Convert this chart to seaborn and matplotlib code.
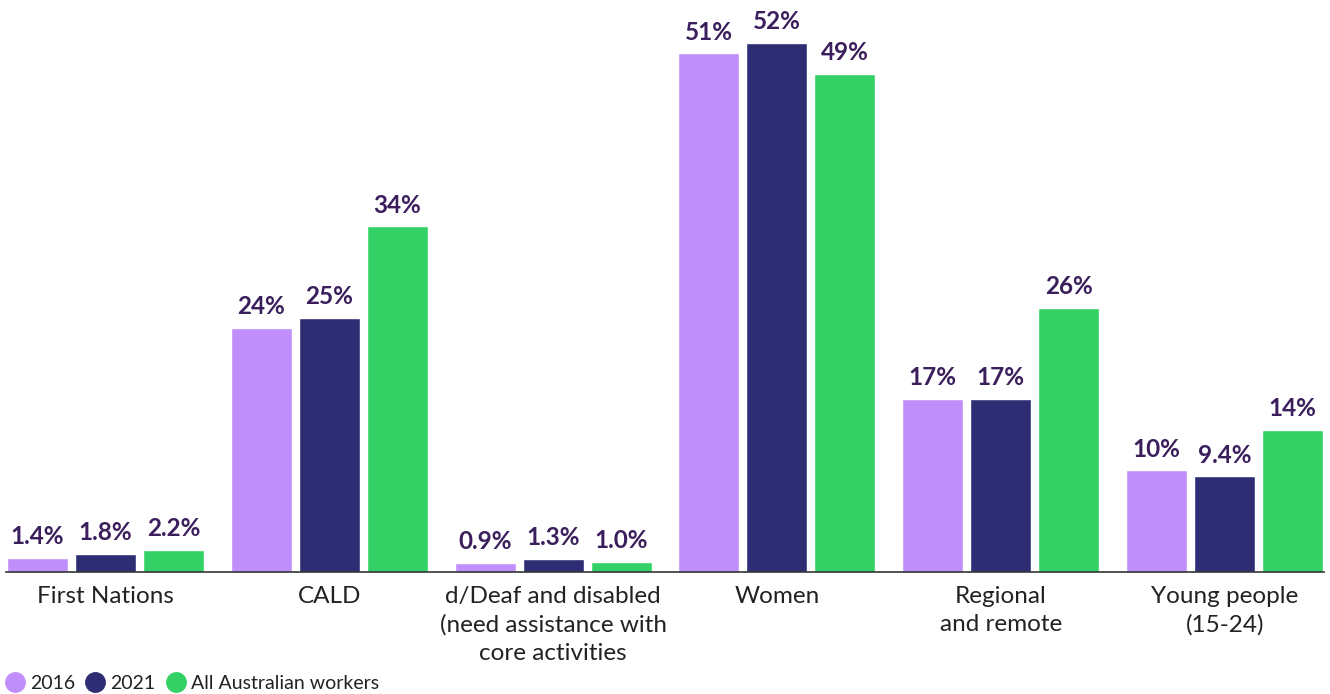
import matplotlib
matplotlib.use("Agg")
import matplotlib.pyplot as plt
from matplotlib.lines import Line2D
import seaborn as sns
import pandas as pd

# Share of workers by group
categories = [
    "First Nations",
    "CALD",
    "d/Deaf and disabled\n(need assistance with\ncore activities",
    "Women",
    "Regional\nand remote",
    "Young people\n(15-24)",
]
series = ["2016", "2021", "All Australian workers"]
values_2016 = [1.4, 24, 0.9, 51, 17, 10]
values_2021 = [1.8, 25, 1.3, 52, 17, 9.4]
values_all = [2.2, 34, 1.0, 49, 26, 14]
colors = ["#c18ffb", "#2e2d74", "#33d165"]

label_color = "#3b1f5c"
text_color = "#222222"

rows = []
for name, vals in zip(series, [values_2016, values_2021, values_all]):
    for cat, v in zip(categories, vals):
        rows.append({"category": cat, "series": name, "value": v})
df = pd.DataFrame(rows)

sns.set_theme(style="white")
plt.rcParams["font.family"] = ["Lato", "DejaVu Sans"]

fig = plt.figure(figsize=(13.3, 6.94), dpi=100)
ax = fig.add_axes([6 / 1330, 122 / 694, 1318 / 1330, 572 / 694])

sns.barplot(
    data=df, x="category", y="value", hue="series",
    order=categories, hue_order=series, palette=colors,
    width=0.9116, gap=0.103, saturation=1, legend=False, ax=ax,
)

ax.set_ylim(0, 56.25)
ax.set_xlim(-0.4437, 5.4437)


def fmt(v):
    return f"{v:.1f}%" if v < 10 else f"{v:.0f}%"


for cont, vals in zip(ax.containers, [values_2016, values_2021, values_all]):
    ax.bar_label(cont, labels=[fmt(v) for v in vals], padding=7,
                 fontsize=17.5, fontweight="bold", color=label_color)

ax.set_xlabel("")
ax.set_ylabel("")
ax.set_yticks([])
ax.set_xticks(range(len(categories)))
ax.set_xticklabels(categories, fontsize=17.5, color=text_color, linespacing=1.42)
ax.tick_params(axis="x", length=0, pad=10)
for side in ["top", "left", "right"]:
    ax.spines[side].set_visible(False)
ax.spines["bottom"].set_color("#333333")
ax.spines["bottom"].set_linewidth(1.2)

handles = [
    Line2D([0], [0], marker="o", linestyle="none", markersize=14,
           markerfacecolor=c, markeredgecolor=c)
    for c in colors
]
fig.legend(handles, series, loc="lower left", bbox_to_anchor=(-0.010, -0.022),
           ncol=3, frameon=False, fontsize=14, handletextpad=0.22,
           columnspacing=0.5, handlelength=1.1, labelcolor=text_color)

fig.savefig("out.png", dpi=100, facecolor="white")
